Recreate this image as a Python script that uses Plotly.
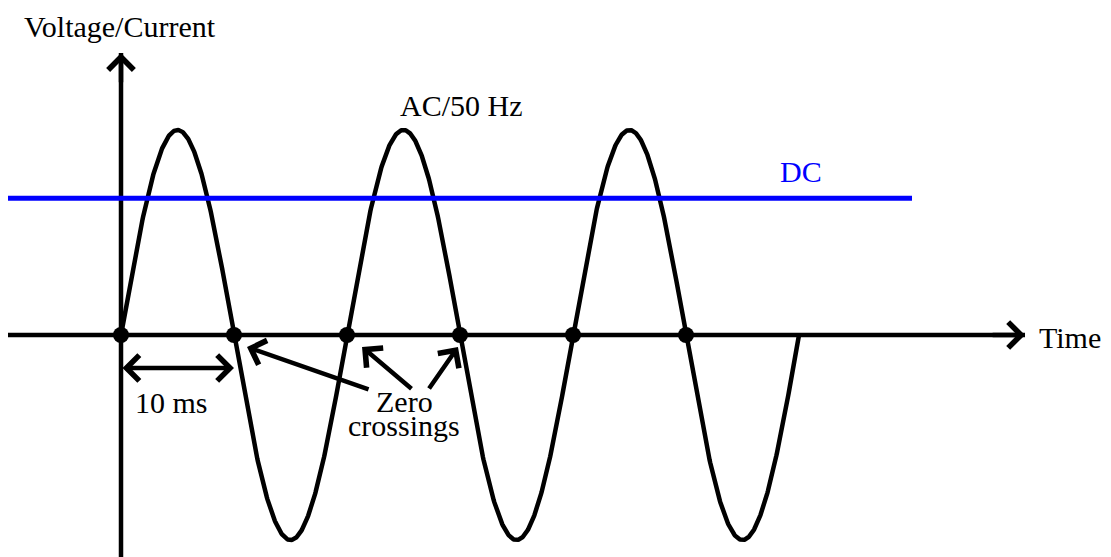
import numpy as np
import plotly.graph_objects as go

# ---- data ----
FREQ_HZ = 50                      # AC frequency
AMPLITUDE = 1.0                   # AC peak (normalised)
N_PERIODS = 3                     # periods drawn
DC_LEVEL = 0.667                  # DC level (normalised)
DC_SPAN_MS = [-10, 70]            # DC line extent (ms)
TIME_AXIS_MS = [-10, 80]          # horizontal axis extent (ms)
VALUE_AXIS = [-1.1, 1.375]        # vertical axis extent
ZERO_CROSSINGS_MS = [0, 10, 20, 30, 40, 50]
LABELS = {"y": "Voltage/Current", "x": "Time", "ac": "AC/50 Hz", "dc": "DC",
          "half": "10 ms", "zc1": "Zero", "zc2": "crossings"}

period_ms = 1000.0 / FREQ_HZ
t = np.linspace(0, N_PERIODS * period_ms, 1200)
v = AMPLITUDE * np.sin(2 * np.pi * t / period_ms)

FONT = "Liberation Serif"
FS = 30
BLACK = "#000000"
BLUE = "#0000ff"
LW = 4.5

fig = go.Figure()
# axes lines
fig.add_trace(go.Scatter(x=TIME_AXIS_MS, y=[0, 0], mode="lines",
                         line=dict(color=BLACK, width=LW), hoverinfo="skip"))
fig.add_trace(go.Scatter(x=[0, 0], y=VALUE_AXIS, mode="lines",
                         line=dict(color=BLACK, width=LW), hoverinfo="skip"))
# AC wave
fig.add_trace(go.Scatter(x=t, y=v, mode="lines",
                         line=dict(color=BLACK, width=LW), hoverinfo="skip"))
# zero crossings
fig.add_trace(go.Scatter(x=ZERO_CROSSINGS_MS, y=[0] * len(ZERO_CROSSINGS_MS),
                         mode="markers", marker=dict(color=BLACK, size=16), hoverinfo="skip"))
# DC line
fig.add_trace(go.Scatter(x=DC_SPAN_MS, y=[DC_LEVEL, DC_LEVEL], mode="lines",
                         line=dict(color=BLUE, width=5), hoverinfo="skip"))

def arrow(x, y, ax, ay, both=False):
    d = dict(x=x, y=y, ax=ax, ay=ay, xref="x", yref="y", axref="x", ayref="y",
             text="", showarrow=True, arrowhead=4, arrowsize=1.1, arrowwidth=LW,
             arrowcolor=BLACK, standoff=0, startstandoff=0)
    if both:
        d.update(arrowside="end+start", startarrowhead=4, startarrowsize=1.1)
    fig.add_annotation(**d)

# axis heads
arrow(TIME_AXIS_MS[1], 0, TIME_AXIS_MS[1] - 3, 0)
arrow(0, VALUE_AXIS[1], 0, VALUE_AXIS[1] - 0.15)
# 10 ms double arrow
arrow(ZERO_CROSSINGS_MS[1], -0.161, ZERO_CROSSINGS_MS[0], -0.161, both=True)
# zero crossing arrows
arrow(11.15, -0.0585, 22.04, -0.268)
arrow(21.33, -0.0585, 25.84, -0.268)
arrow(29.82, -0.0585, 27.17, -0.268)

def label(text, x, y, color=BLACK, xanchor="center", yanchor="middle", size=FS):
    fig.add_annotation(x=x, y=y, xref="x", yref="y", text=text, showarrow=False,
                       font=dict(family=FONT, size=size, color=color),
                       xanchor=xanchor, yanchor=yanchor)

label(LABELS["y"], -0.1, 1.594, yanchor="top")
label(LABELS["ac"], 30.1, 1.12)
label(LABELS["dc"], 60.2, 0.80, color=BLUE)
label(LABELS["x"], 81.1, -0.01, xanchor="left")
label(LABELS["half"], 4.5, -0.33)
label(LABELS["zc1"], 25.1, -0.325)
label(LABELS["zc2"], 25.05, -0.44)

fig.update_layout(
    width=1103, height=549, autosize=False,
    margin=dict(l=0, r=0, t=0, b=0),
    paper_bgcolor="white", plot_bgcolor="white",
    showlegend=False,
    xaxis=dict(range=[-10.0, 87.61], visible=False, fixedrange=True),
    yaxis=dict(range=[-1.0829, 1.5951], visible=False, fixedrange=True),
)
fig.write_html("out.html")
